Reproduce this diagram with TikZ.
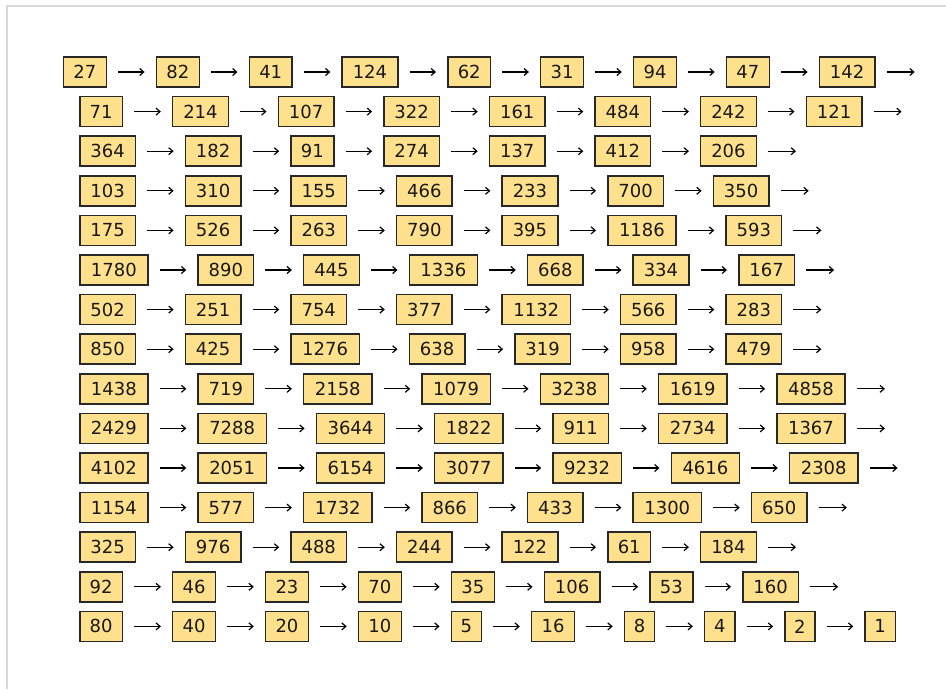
\documentclass[tikz,border=0pt]{standalone}
\usepackage{fontspec}
\setmainfont{DejaVu Sans}
\usetikzlibrary{arrows.meta}
\definecolor{boxfill}{RGB}{255,224,140}
\definecolor{boxline}{RGB}{40,40,40}
\definecolor{framegray}{RGB}{216,216,216}
\definecolor{numtext}{RGB}{25,25,25}
\tikzset{
  numbox/.style={draw=boxline, fill=boxfill, line width=1.5pt, minimum height=30pt,
    inner sep=0pt, anchor=west, font=\fontsize{18}{20}\selectfont, text=numtext},
  link/.style={-{Straight Barb[length=4pt,width=7pt]}, line width=1.2pt,
    shorten <=11pt, shorten >=11pt},
  framerule/.style={draw=framegray, line width=2pt}
}
% #1 row name, #2 y, #3 start x, #4 list, #5 trailing arrow (1/0)
\newcommand\collatzrow[5]{%
  \xdef\curx{#3}%
  \foreach \n [count=\i] in {#4} {%
    \pgfmathtruncatemacro\d{\n<10 ? 1 : (\n<100 ? 2 : (\n<1000 ? 3 : 4))}%
    \pgfmathsetmacro\w{17.5+12.7*\d}%
    \node[numbox, minimum width=\w pt] (#1-\i) at (\curx pt, #2 pt) {\n};
    \ifnum\i>1
      \pgfmathtruncatemacro\p{\i-1}%
      \draw[link] (#1-\p.east) -- (#1-\i.west);
    \fi
    \pgfmathsetmacro\nx{\curx+\w+50}%
    \xdef\curx{\nx}%
    \xdef\lastidx{\i}%
  }%
  \ifnum#5=1
    \coordinate (#1-end) at ([xshift=50pt]#1-\lastidx.east);
    \draw[link] (#1-\lastidx.east) -- (#1-end);
  \fi
}
\begin{document}
\begin{tikzpicture}[x=1pt,y=1pt]
  \useasboundingbox (0,0) rectangle (946,-689);
  \fill[white] (0,0) rectangle (946,-689);
  \draw[framerule] (6,-6) -- (946,-6);
  \draw[framerule] (7,-6) -- (7,-689);
  \collatzrow{r1}{-72}{62.7}{27,82,41,124,62,31,94,47,142}{1}
  \collatzrow{r2}{-111.6}{79}{71,214,107,322,161,484,242,121}{1}
  \collatzrow{r3}{-151.2}{79}{364,182,91,274,137,412,206}{1}
  \collatzrow{r4}{-190.8}{79}{103,310,155,466,233,700,350}{1}
  \collatzrow{r5}{-230.4}{79}{175,526,263,790,395,1186,593}{1}
  \collatzrow{r6}{-270}{79}{1780,890,445,1336,668,334,167}{1}
  \collatzrow{r7}{-309.6}{79}{502,251,754,377,1132,566,283}{1}
  \collatzrow{r8}{-349.2}{79}{850,425,1276,638,319,958,479}{1}
  \collatzrow{r9}{-388.8}{79}{1438,719,2158,1079,3238,1619,4858}{1}
  \collatzrow{r10}{-428.4}{79}{2429,7288,3644,1822,911,2734,1367}{1}
  \collatzrow{r11}{-468}{79}{4102,2051,6154,3077,9232,4616,2308}{1}
  \collatzrow{r12}{-507.6}{79}{1154,577,1732,866,433,1300,650}{1}
  \collatzrow{r13}{-547.2}{79}{325,976,488,244,122,61,184}{1}
  \collatzrow{r14}{-586.8}{79}{92,46,23,70,35,106,53,160}{1}
  \collatzrow{r15}{-626.4}{79}{80,40,20,10,5,16,8,4,2,1}{0}
\end{tikzpicture}
\end{document}
